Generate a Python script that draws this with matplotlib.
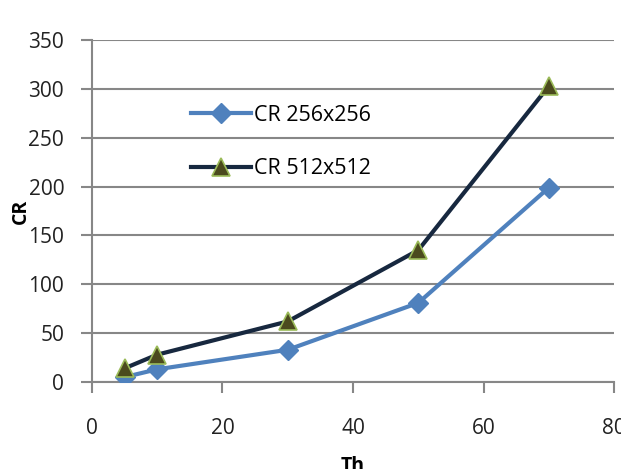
import matplotlib
matplotlib.use("Agg")
import matplotlib.pyplot as plt

# threshold vs compression ratio
th = [5, 10, 30, 50, 70]
cr_256 = [5, 13, 33, 81, 199]
cr_512 = [14, 28, 62, 135, 303]
labels = ["CR 256x256", "CR 512x512"]

plt.rcParams['font.family'] = ['Open Sans', 'DejaVu Sans']

fig = plt.figure(figsize=(6.21, 4.69), dpi=100)
ax = fig.add_axes([0.148, 0.1855, 0.841, 0.729])

ax.plot(th, cr_256, color='#4f81bd', lw=3, marker='D', ms=10,
        mfc='#4f81bd', mec='#4f81bd', label=labels[0], zorder=3)
ax.plot(th, cr_512, color='#17283f', lw=3, marker='^', ms=13,
        mfc='#4b4a1e', mec='#9bbb59', mew=1.2, label=labels[1], zorder=4)

ax.set_xlim(0, 80)
ax.set_ylim(0, 350)
ax.set_xticks(range(0, 81, 20))
ax.set_yticks(range(0, 351, 50))
ax.grid(axis='y', color='#878787', lw=1.5)
ax.set_axisbelow(True)
for s in ['top', 'right']:
    ax.spines[s].set_visible(False)
for s in ['left', 'bottom']:
    ax.spines[s].set_color('#878787')
    ax.spines[s].set_linewidth(1.5)
ax.tick_params(axis='both', colors='#878787', width=1.5, length=8,
               labelsize=15, labelcolor='#222222')
ax.tick_params(axis='x', pad=18)
ax.tick_params(axis='y', pad=12)

ax.set_xlabel("Th", fontsize=14, fontweight='bold', labelpad=12)
ax.set_ylabel("CR", fontsize=14, fontweight='bold', labelpad=-2)

ax.legend(loc='upper left', bbox_to_anchor=(0.152, 0.867), frameon=False,
          fontsize=15.5, handlelength=2.8, labelspacing=1.5, handletextpad=0.15)

fig.savefig("out.png", dpi=100)
